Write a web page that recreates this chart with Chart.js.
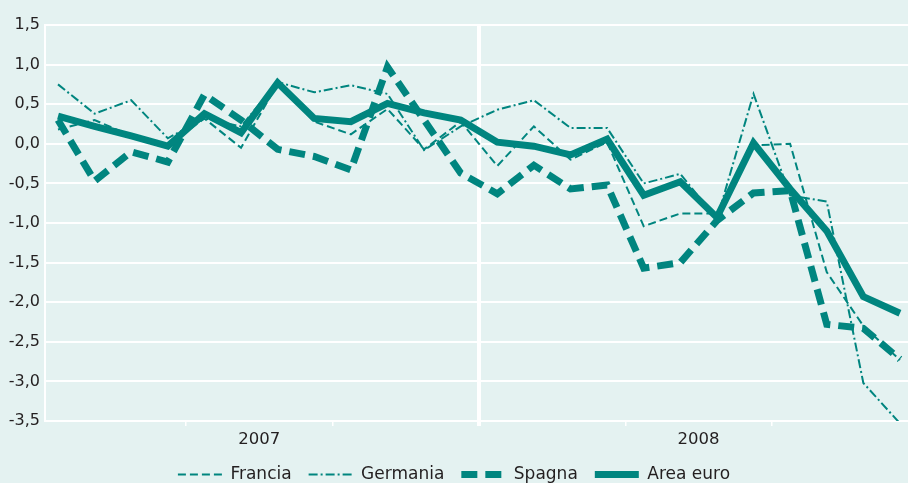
<!DOCTYPE html>
<html lang="it">
<head>
<meta charset="utf-8">
<title>Produzione industriale</title>
<script src="https://cdn.jsdelivr.net/npm/chart.js@4.4.1/dist/chart.umd.min.js"></script>
<style>
  html, body { margin:0; padding:0; background:#e4f2f1; }
  #wrap { width:908px; height:483px; }
</style>
</head>
<body>
<div id="wrap"><canvas id="grafico" width="908" height="483"></canvas></div>
<script>
/* ---- dati (variazioni % sul mese precedente) ---- */
const mesi = ['gen 07','feb 07','mar 07','apr 07','mag 07','giu 07','lug 07','ago 07','set 07','ott 07','nov 07','dic 07',
              'gen 08','feb 08','mar 08','apr 08','mag 08','giu 08','lug 08','ago 08','set 08','ott 08','nov 08','dic 08'];
const anni = ['2007', '2008'];
const francia  = [0.18, 0.30, 0.10, -0.02, 0.32, -0.05, 0.76, 0.28, 0.12, 0.44, -0.07, 0.28,
                  -0.28, 0.22, -0.20, 0.02, -1.04, -0.88, -0.88, -0.02, 0.00, -1.62, -2.30, -2.73];
const germania = [0.75, 0.38, 0.55, 0.07, 0.32, 0.22, 0.78, 0.65, 0.74, 0.63, -0.08, 0.22,
                  0.43, 0.55, 0.20, 0.20, -0.50, -0.38, -0.95, 0.63, -0.65, -0.73, -3.02, -3.53];
const spagna   = [0.30, -0.47, -0.10, -0.23, 0.62, 0.30, -0.07, -0.16, -0.33, 0.97, 0.30, -0.37,
                  -0.63, -0.27, -0.57, -0.52, -1.57, -1.50, -0.97, -0.62, -0.59, -2.28, -2.33, -2.72];
const areaEuro = [0.35, 0.22, 0.10, -0.03, 0.38, 0.14, 0.77, 0.32, 0.28, 0.51, 0.39, 0.30,
                  0.02, -0.03, -0.14, 0.06, -0.65, -0.48, -0.93, 0.01, -0.57, -1.10, -1.93, -2.14];
const yMin = -3.5, yMax = 1.5, yPasso = 0.5;

/* ---- stile ---- */
const verde = '#00857f';
const testo = '#231f20';
const font = 'DejaVu Sans';

const punti = arr => arr.map((v, i) => ({x: i, y: v}));
const virgola = v => v.toFixed(1).replace('.', ',').replace('-0,0', '0,0');

// tacche ogni 4 mesi, etichetta anno a metà di ogni anno, separatore tra i due anni
const tacche = [];
for (let k = 4; k < mesi.length; k += 4) tacche.push(k - 0.5);
const centroAnno = anni.map((a, j) => j * 12 + 5.5);
const separatore = 11.5;
const tickX = [...tacche, ...centroAnno].sort((a, b) => a - b);

const serie = [
  {label:'Francia',   data:punti(francia),  borderWidth:2, borderDash:[8,4],      order:3},
  {label:'Germania',  data:punti(germania), borderWidth:2, borderDash:[9,3,2,3],  order:2},
  {label:'Spagna',    data:punti(spagna),   borderWidth:7, borderDash:[16,8],     order:1},
  {label:'Area euro', data:punti(areaEuro), borderWidth:7, borderDash:[],         order:0}
].map(s => ({...s, borderColor:verde, backgroundColor:verde, pointRadius:0, tension:0, fill:false, borderJoinStyle:'miter'}));

new Chart(document.getElementById('grafico'), {
  type: 'line',
  data: { datasets: serie },
  options: {
    responsive: false,
    animation: false,
    layout: { padding: { top: 25, right: 0, left: 0, bottom: 0 } },
    plugins: {
      tooltip: { enabled: false },
      legend: {
        position: 'bottom',
        maxHeight: 34,
        labels: {
          usePointStyle: true,
          pointStyleWidth: 44,
          padding: 17,
          color: testo,
          font: { family: font, size: 17 },
          generateLabels: chart => chart.data.datasets.map((ds, i) => ({
            text: ds.label, datasetIndex: i, hidden: false,
            strokeStyle: ds.borderColor, fillStyle: ds.borderColor, fontColor: testo,
            lineWidth: ds.borderWidth, lineDash: ds.borderDash, lineCap: 'butt',
            pointStyle: 'line'
          }))
        }
      }
    },
    scales: {
      x: {
        type: 'linear',
        min: -0.355, max: 23.22,
        afterBuildTicks: s => { s.ticks = tickX.map(v => ({value: v})); },
        afterFit: s => { s.height = 28; },
        ticks: {
          autoSkip: false, maxRotation: 0, padding: 4,
          color: testo, font: { family: font, size: 16.5 },
          callback: v => { const j = centroAnno.indexOf(v); return j >= 0 ? anni[j] : ''; }
        },
        grid: {
          drawOnChartArea: true,
          tickLength: 5,
          color: c => c.tick && c.tick.value === separatore ? '#ffffff' : 'rgba(0,0,0,0)',
          lineWidth: c => c.tick && c.tick.value === separatore ? 4 : 1.5,
          tickColor: c => c.tick && centroAnno.includes(c.tick.value) ? 'rgba(0,0,0,0)' : '#ffffff'
        },
        border: { display: true, color: '#ffffff', width: 2 }
      },
      y: {
        min: yMin, max: yMax,
        afterFit: s => { s.width = 45; },
        ticks: {
          stepSize: yPasso, padding: 5,
          color: testo, font: { family: font, size: 16 },
          callback: v => virgola(v)
        },
        grid: { color: '#ffffff', lineWidth: 2, drawTicks: false },
        border: { display: true, color: '#ffffff', width: 2 }
      }
    }
  }
});
</script>
</body>
</html>
